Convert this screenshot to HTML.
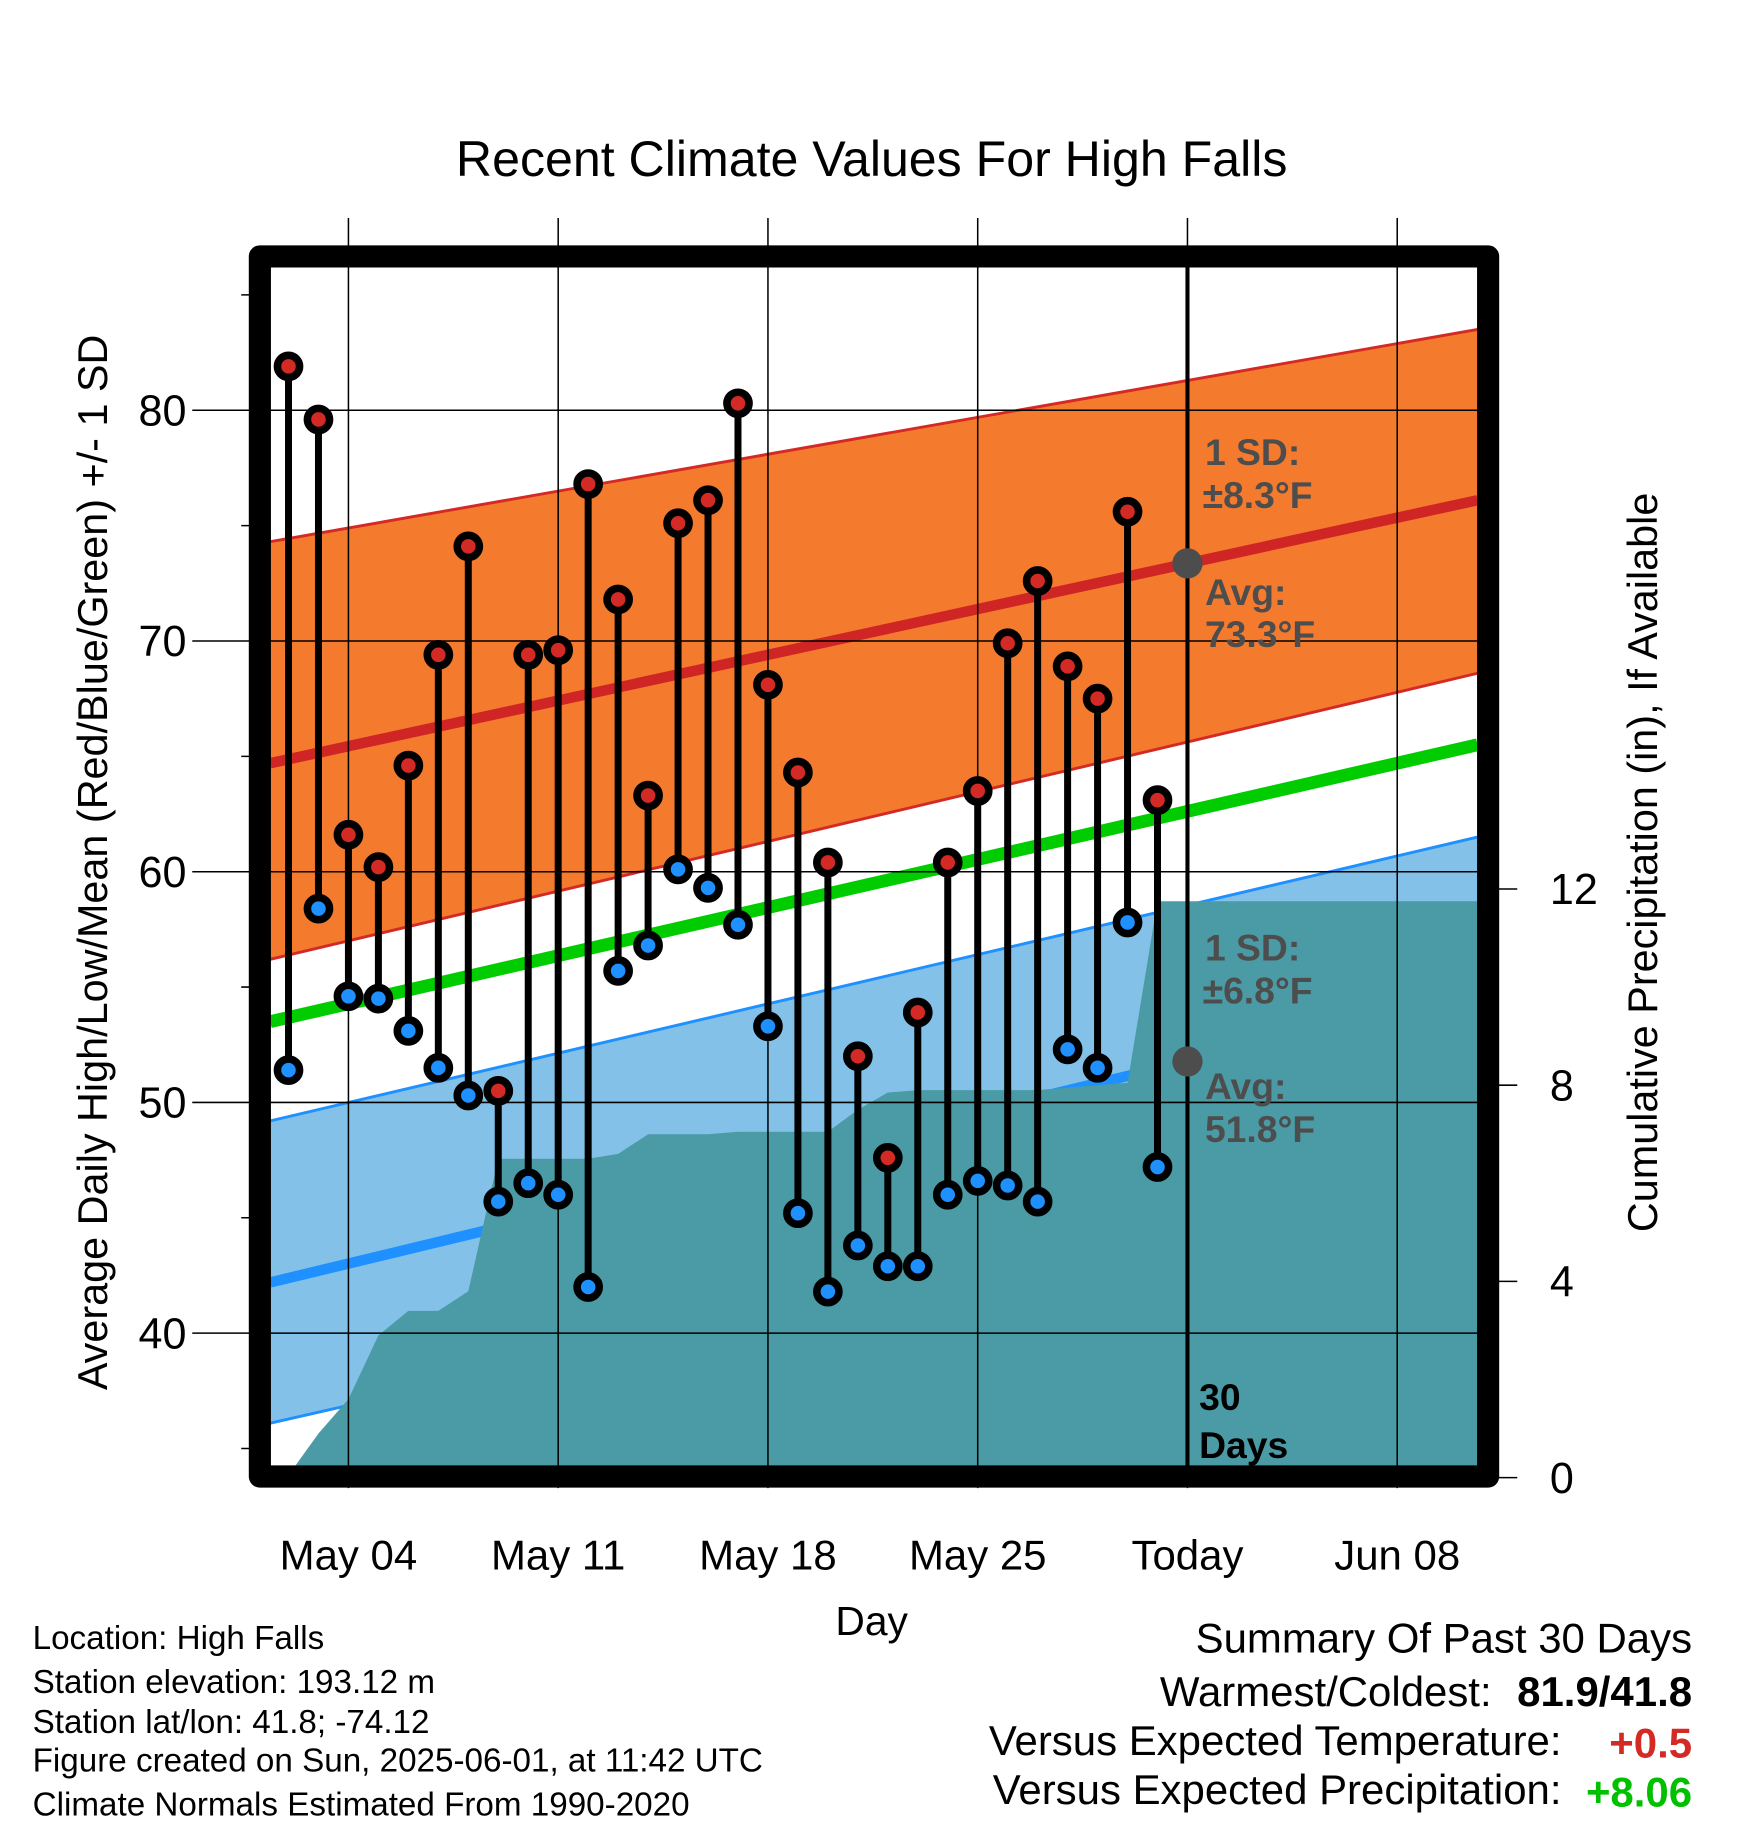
<!DOCTYPE html>
<html><head><meta charset="utf-8"><style>
html,body{margin:0;padding:0;background:#fff}
svg{display:block;font-family:"Liberation Sans",sans-serif}
</style></head><body>
<svg id="chart" width="1748" height="1828" viewBox="0 0 1500 1568.6" xmlns="http://www.w3.org/2000/svg">
<text x="748" y="151" font-size="43" text-anchor="middle">Recent Climate Values For High Falls</text>
<g id="plot"></g>
<text transform="translate(92,740) rotate(-90)" font-size="35.5" text-anchor="middle">Average Daily High/Low/Mean (Red/Blue/Green) +/- 1 SD</text>
<text transform="translate(1422,740) rotate(-90)" font-size="35.5" text-anchor="middle">Cumulative Precipitation (in), If Available</text>
<text x="748" y="1403" font-size="35" text-anchor="middle">Day</text>
<g font-size="28.5">
<text x="28" y="1415">Location: High Falls</text>
<text x="28" y="1453">Station elevation: 193.12 m</text>
<text x="28" y="1487">Station lat/lon: 41.8; -74.12</text>
<text x="28" y="1520">Figure created on Sun, 2025-06-01, at 11:42 UTC</text>
<text x="28" y="1558">Climate Normals Estimated From 1990-2020</text>
</g>
<g font-size="36">
<text x="1452" y="1418" text-anchor="end">Summary Of Past 30 Days</text>
<text x="1280" y="1464" text-anchor="end">Warmest/Coldest:</text>
<text x="1452" y="1464" text-anchor="end" font-weight="bold">81.9/41.8</text>
<text x="1340" y="1506" text-anchor="end">Versus Expected Temperature:</text>
<text x="1452" y="1508" text-anchor="end" font-weight="bold" fill="#d42a25">+0.5</text>
<text x="1340" y="1548" text-anchor="end">Versus Expected Precipitation:</text>
<text x="1452" y="1550" text-anchor="end" font-weight="bold" fill="#00c000">+8.06</text>
</g>
</svg>
<script>
const days=[2,3,4,5,6,7,8,9,10,11,12,13,14,15,16,17,18,19,20,21,22,23,24,25,26,27,28,29,30,31];
const highs=[81.9,79.6,61.6,60.2,64.6,69.4,74.1,50.5,69.4,69.6,76.8,71.8,63.3,75.1,76.1,80.3,68.1,64.3,60.4,52.0,47.6,53.9,60.4,63.5,69.9,72.6,68.9,67.5,75.6,63.1];
const lows=[51.4,58.4,54.6,54.5,53.1,51.5,50.3,45.7,46.5,46.0,42.0,55.7,56.8,60.1,59.3,57.7,53.3,45.2,41.8,43.8,42.9,42.9,46.0,46.6,46.4,45.7,52.3,51.5,57.8,47.2];
const precip=[0.05,0.9,1.6,2.9,3.4,3.4,3.8,6.5,6.5,6.5,6.5,6.6,7.0,7.0,7.0,7.05,7.05,7.05,7.05,7.5,7.85,7.9,7.9,7.9,7.9,7.9,7.95,8.0,8.05,11.75];
const normDays=[1.39,41.68];
const normHigh=[64.7,76.1];
const highUpper=[74.3,83.5];
const highLower=[56.2,68.6];
const normLow=[42.2,54.8];
const lowUpper=[49.2,61.5];
const lowLower=[36.1,48.0];
const normMean=[53.5,65.5];
const yTicks=[40,50,60,70,80];
const pTicks=[0,4,8,12];
const xTickDays=[4,11,18,25,32,39];
const xTickLabels=["May 04","May 11","May 18","May 25","Today","Jun 08"];
const todayDay=32;

const X=d=>299+(d-4)*25.714;
const Y=v=>352+(80-v)*19.8;
const P=p=>1268-p*42.1;
const L=232,R=1268,T=231,B=1258;
const NS='http://www.w3.org/2000/svg';
const g=document.getElementById('plot');
function mk(tag,attrs,parent){const e=document.createElementNS(NS,tag);for(const k in attrs)e.setAttribute(k,attrs[k]);(parent||g).appendChild(e);return e;}
const lerp=(a,t)=>a[0]+(a[1]-a[0])*t;
const xL=X(normDays[0]),xR=X(normDays[1]);
const defs=mk('defs',{});const cp=mk('clipPath',{id:'c'},defs);mk('rect',{x:L,y:T,width:R-L,height:B-T},cp);
const cg=mk('g',{'clip-path':'url(#c)'});
function band(up,lo,fill,edge,name){
  const p=`${xL},${Y(up[0])} ${xR},${Y(up[1])} ${xR},${Y(lo[1])} ${xL},${Y(lo[0])}`;
  const b=mk('polygon',{points:p,fill:fill},cg);
  
  
  [up,lo].forEach(a=>{const l=mk('line',{x1:xL,y1:Y(a[0]),x2:xR,y2:Y(a[1]),stroke:edge,'stroke-width':2.5},cg);
    
    });
}
band(highUpper,highLower,'#f47a2e','#d42a25','high-sd-band');
band(lowUpper,lowLower,'#84c1e8','#1e90ff','low-sd-band');
let ln=mk('line',{x1:xL,y1:Y(normHigh[0]),x2:xR,y2:Y(normHigh[1]),stroke:'#d02525','stroke-width':9},cg);


ln=mk('line',{x1:xL,y1:Y(normLow[0]),x2:xR,y2:Y(normLow[1]),stroke:'#1e90ff','stroke-width':9},cg);


ln=mk('line',{x1:xL,y1:Y(normMean[0]),x2:xR,y2:Y(normMean[1]),stroke:'#00cc00','stroke-width':11},cg);


let pp=`${X(days[0])},${B} `+days.map((d,i)=>`${X(d)},${P(precip[i])}`).join(' ')+` ${R},${P(precip[precip.length-1])} ${R},${B}`;
const pr=mk('polygon',{points:pp,fill:'#4a9ba5'},cg);


xTickDays.forEach((d,i)=>{const l=mk('line',{x1:X(d),y1:187,x2:X(d),y2:1277,stroke:'#000','stroke-width':1.3});
  
  
  const t=mk('text',{x:X(d),y:1347,'font-size':36,'text-anchor':'middle'});t.textContent=xTickLabels[i];
  
  });
yTicks.forEach(v=>{const l=mk('line',{x1:165,y1:Y(v),x2:R,y2:Y(v),stroke:'#000','stroke-width':1.3});
  
  
  const t=mk('text',{x:160,y:Y(v)+13,'font-size':37,'text-anchor':'end'});t.textContent=v;
  
  });
for(let v=35;v<=85;v+=10){const l=mk('line',{x1:207,y1:Y(v),x2:L,y2:Y(v),stroke:'#000','stroke-width':1.3});
  
  }
pTicks.forEach(p=>{const l=mk('line',{x1:R,y1:P(p),x2:1302,y2:P(p),stroke:'#000','stroke-width':1.3});
  
  
  const t=mk('text',{x:1330,y:P(p)+13,'font-size':37});t.textContent=p;
  
  });
ln=mk('line',{x1:X(todayDay),y1:T-10,x2:X(todayDay),y2:B+5,stroke:'#000','stroke-width':3.5});


days.forEach((d,i)=>{const x=X(d);
  const s=mk('line',{x1:x,y1:Y(highs[i]),x2:x,y2:Y(lows[i]),stroke:'#000','stroke-width':6});
  
  
  [[highs[i],'#d42a25','high-point'],[lows[i],'#1e90ff','low-point']].forEach(([v,c,n])=>{
    const m=mk('circle',{cx:x,cy:Y(v),r:9.5,fill:c,stroke:'#000','stroke-width':6.5});
    
    });
});
const tt=(X(todayDay)-xL)/(xR-xL);
[[lerp(normHigh,tt),'today-avg-high-dot'],[lerp(normLow,tt),'today-avg-low-dot']].forEach(([v,n])=>{
  const c=mk('circle',{cx:X(todayDay),cy:Y(v),r:13,fill:'#4d4d4d'});
  
  });
function txt(x,y,s,fill,name){const t=mk('text',{x:x,y:y,'font-size':32,'font-weight':'bold',fill:fill});t.textContent=s;
  
  }
txt(1034,399,'1 SD:','#4d4d4d','high-sd-label');
txt(1032,436,'±8.3°F','#4d4d4d','high-sd-value');
txt(1034,519,'Avg:','#4d4d4d','high-avg-label');
txt(1034,555,'73.3°F','#4d4d4d','high-avg-value');
txt(1034,824,'1 SD:','#4d4d4d','low-sd-label');
txt(1032,861,'±6.8°F','#4d4d4d','low-sd-value');
txt(1034,943,'Avg:','#4d4d4d','low-avg-label');
txt(1034,980,'51.8°F','#4d4d4d','low-avg-value');
txt(1029,1210,'30','#000','days-count');
txt(1029,1251,'Days','#000','days-label');
const f=mk('rect',{x:223,y:220,width:1054,height:1047,fill:'none',stroke:'#000','stroke-width':19,'stroke-linejoin':'round'});


</script>
</body></html>
